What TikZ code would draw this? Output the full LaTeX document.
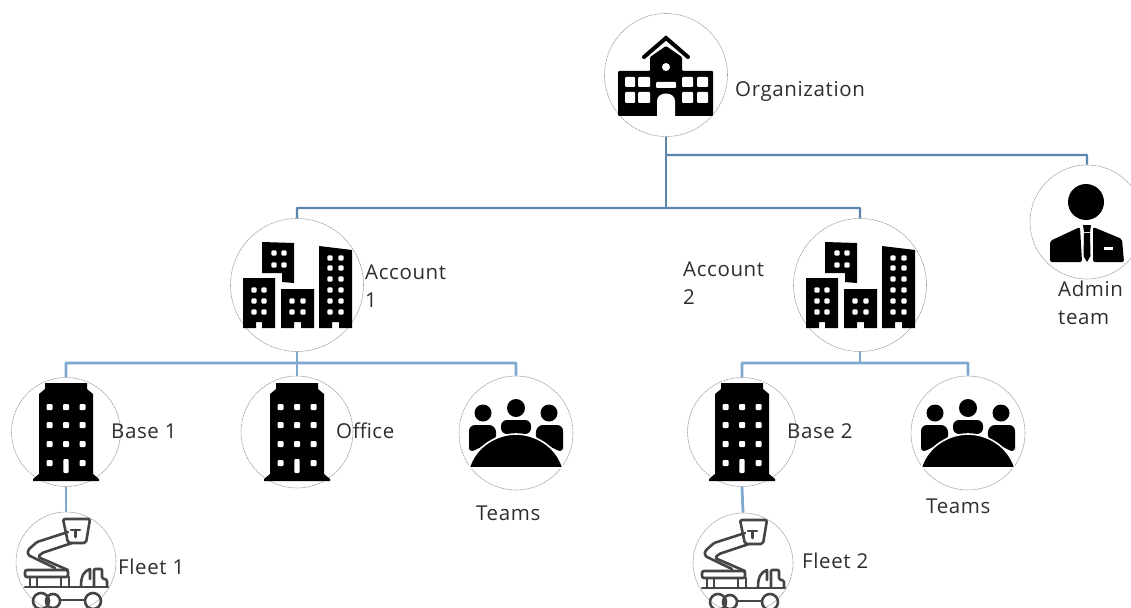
\documentclass[tikz,border=0pt]{standalone}
\usepackage{fontspec}
\setmainfont[LetterSpace=3]{Open Sans}
\definecolor{ink}{HTML}{2E2E2E}
\definecolor{lineA}{HTML}{5B86AE}
\definecolor{lineB}{HTML}{7FA8CE}
\definecolor{fleetgray}{HTML}{454545}
\tikzset{
  x=1pt,y=-1pt,
  ring/.style={circle,draw=black!35,line width=.6pt,dash pattern=on 2.5pt off .6pt,inner sep=0pt,minimum size=#1},
  lab/.style={text=ink,font=\fontsize{20.5}{28.5}\selectfont,align=left,inner sep=0pt},
  connA/.style={draw=lineA,line width=2.3pt},
  connB/.style={draw=lineB,line width=2.8pt},
  win/.style={fill=white,rounded corners=1pt},
  pics/hall/.style={code={
    \draw[line width=4pt,line cap=round,line join=miter] (-22,-18)--(0,-37)--(22,-18);
    \fill[rounded corners=1pt] (-48,-4)--(-16,-4)--(-16,-18)--(0,-29)--(16,-18)--(16,-4)--(47,-4)--(47,41)--(-48,41)--cycle;
    \foreach \xa/\xb in {-41/-31,-28/-16,16/27,31/42}{
      \fill[win] (\xa,2) rectangle (\xb,12);
      \fill[win] (\xa,17) rectangle (\xb,28);}
    \fill[win] (-10,7) rectangle (10,13);
    \fill[white] (-9,41)--(-9,26) .. controls (-9,16) and (9,16) .. (9,26)--(9,41)--cycle;
    \fill[white] (0,-8) circle (4);
  }},
  pics/towers/.style={code={
    \fill (-35,-43)--(-3,-42)--(-3,-2)--(-15,-3)--(-15,-12)--(-35,-12)--cycle;
    \fill (-54,-7)--(-22,-7)--(-22,43)--(-35,43)--(-35,37)--(-41,37)--(-41,43)--(-54,43)--cycle;
    \fill (-16,4)--(17,4)--(17,43)--(4,43)--(4,37)--(-3,37)--(-3,43)--(-16,43)--cycle;
    \fill (22,-39)--(55,-35)--(55,43)--(42,43)--(42,37)--(35,37)--(35,43)--(22,43)--cycle;
    \foreach \wx/\wy in {-23/-32,-13/-32,-23/-20,-13/-20,-43/5,-33/5,-43/16,-33/16,-43/27,-33/27,-5/16,6/16,-5/27,6/27,33/-27,44/-27,33/-17,44/-17,33/-6,44/-6,33/5,44/5,33/16,44/16,33/27,44/27}
      \fill[win] (\wx-2.6,\wy-2.6) rectangle (\wx+2.6,\wy+2.6);
  }},
  pics/tower/.style={code={
    \fill (-21,-49)--(21,-49)--(21,-43)--(27,-38)--(27,42)--(33,47)--(33,49)--(-33,49)--(-33,47)--(-27,42)--(-27,-38)--(-21,-43)--cycle;
    \foreach \wy in {-25,-7,12,31}{
      \fill[win] (-19.5,\wy-3) rectangle (-13.5,\wy+3);
      \fill[win] (13.5,\wy-3) rectangle (19.5,\wy+3);}
    \foreach \wy in {-25,-7,12}\fill[win] (-3,\wy-3) rectangle (3,\wy+3);
    \fill[win] (-2.6,27) rectangle (2.6,41);
  }},
  pics/people/.style={code={
    \fill (-33,-20) circle (8.5);
    \fill (0,-25) circle (9);
    \fill (33,-20) circle (8.5);
    \fill[rounded corners=6pt] (-47,20)--(-47,-8)--(-21,-8)--(-19,6)--(-47,20)--cycle;
    \fill[rounded corners=6pt] (47,20)--(47,-8)--(21,-8)--(19,6)--(47,20)--cycle;
    \fill[rounded corners=6pt] (-15,1)--(-15,-13)--(15,-13)--(15,1)--cycle;
    \fill[draw=white,line width=1.6pt] (-47,35) .. controls (-40,12) and (-18,1) .. (0,1) .. controls (18,1) and (40,12) .. (47,35)--cycle;
  }},
  pics/person/.style={code={
    \fill (-1,-20) circle (18);
    \fill[rounded corners=2pt] (-37,40)--(-37,19)--(-7,5)--(-5,40)--cycle;
    \fill[rounded corners=2pt] (6,5)--(35,17)--(37,40)--(6,40)--cycle;
    \fill (-4,3)--(4,3)--(3,10)--(-3,10)--cycle;
    \fill (-3,11)--(3,11)--(3.5,34)--(0,40)--(-3.5,34)--cycle;
    \fill[white] (17,25) rectangle (26,28);
  }},
  pics/lift/.style={code={
    \begin{scope}[draw=fleetgray,line width=2.6pt,line join=round,line cap=round]
    \draw[rounded corners=2pt] (-3,-43)--(24,-43)--(20,-19)--(2,-19)--cycle;
    \draw (5,-32)--(14,-32) (9.5,-32)--(9.5,-25);
    \draw[rounded corners=1.5pt] (2,-30)--(-29,-20)--(-38,-12)--(-38,-7)--(-11,6);
    \draw[rounded corners=1.5pt] (6,-19)--(-24,-9)--(-28,-5)--(2,8);
    \draw[rounded corners=2pt] (-41,8) rectangle (2,15);
    \draw (-36,15)--(-36,25) (-29,15)--(-29,25) (-5,15)--(-5,25) (3,15)--(3,25);
    \draw (-41,25)--(42,25);
    \draw (15,24) .. controls (15,14) and (18,9) .. (24,7)--(24,17);
    \draw[rounded corners=1pt] (28,24)--(28,7)--(36,7)--(36,16)--(41,18)--(41,24);
    \draw (-25,39) circle (8) (-13,39) circle (7) (27,39) circle (8);
    \draw (-5,38)--(19,38);
    \end{scope}
  }},
}
\begin{document}
\begin{tikzpicture}
\clip (0,0) rectangle (1131,607);
\useasboundingbox (0,0) rectangle (1131,607);
% rings
\node[ring=123pt] (org) at (666,75) {};
\node[ring=133pt] (acA) at (297,285) {};
\node[ring=133pt] (acB) at (860,285) {};
\node[ring=114pt] (adm) at (1087,222) {};
\node[ring=109pt] (baseA) at (66,432) {};
\node[ring=112pt] (off) at (297,432) {};
\node[ring=114pt] (teamA) at (516,433) {};
\node[ring=109pt] (baseB) at (742,432) {};
\node[ring=114pt] (teamB) at (968,433) {};
\node[ring=100pt] (flA) at (66,562) {};
\node[ring=100pt] (flB) at (743,563) {};
% icons
\pic at (org) {hall};
\pic at (acA) {towers};
\pic at (acB) {towers};
\pic at (adm) {person};
\pic at (baseA) {tower};
\pic at (off) {tower};
\pic at (baseB) {tower};
\pic at (teamA) {people};
\pic at (teamB) {people};
\pic at (flA) {lift};
\pic at (flB) {lift};
% connector junctions
\coordinate (jorg) at (666,208);
\coordinate (jadm) at (666,155);
\coordinate (jA) at (297,363);
\coordinate (jB) at (860,363);
\draw[connA] (org.south)--(jorg);
\draw[connA,rounded corners=.5pt] (jadm)-|(adm.north);
\draw[connA,rounded corners=.5pt] (acA.north)|-(jorg)-|(acB.north);
\draw[connB] (acA.south)--(jA);
\draw[connB,rounded corners=.5pt] (baseA.north)|-(jA);
\draw[connB,rounded corners=.5pt] (jA)-|(teamA.north);
\draw[connB] (jA)--(off.north);
\draw[connB] (acB.south)--(jB);
\draw[connB,rounded corners=.5pt] (baseB.north)|-(jB)-|(teamB.north);
\draw[connB] (baseA.south)--(flA.north);
\draw[connB] (baseB.south)--(flB.north);
% labels
\node[lab,anchor=west] (tOrg) at (735,91) {Organization};
\node[lab,anchor=west] (tA) at (365,286) {Account\\1};
\node[lab,anchor=west] (tB) at (683,283) {Account\\2};
\node[lab,anchor=west] (tAdm) at (1058,303) {Admin\\team};
\node[lab,anchor=west] (tBA) at (111,431) {Base 1};
\node[lab,anchor=west] (tOff) at (336,431) {Office};
\node[lab,anchor=west] (tBB) at (787,431) {Base 2};
\node[lab,anchor=west] (tTA) at (476,513) {Teams};
\node[lab,anchor=west] (tTB) at (926,506) {Teams};
\node[lab,anchor=west] (tFA) at (118,567) {Fleet 1};
\node[lab,anchor=west] (tFB) at (802,561) {Fleet 2};
\end{tikzpicture}
\end{document}
